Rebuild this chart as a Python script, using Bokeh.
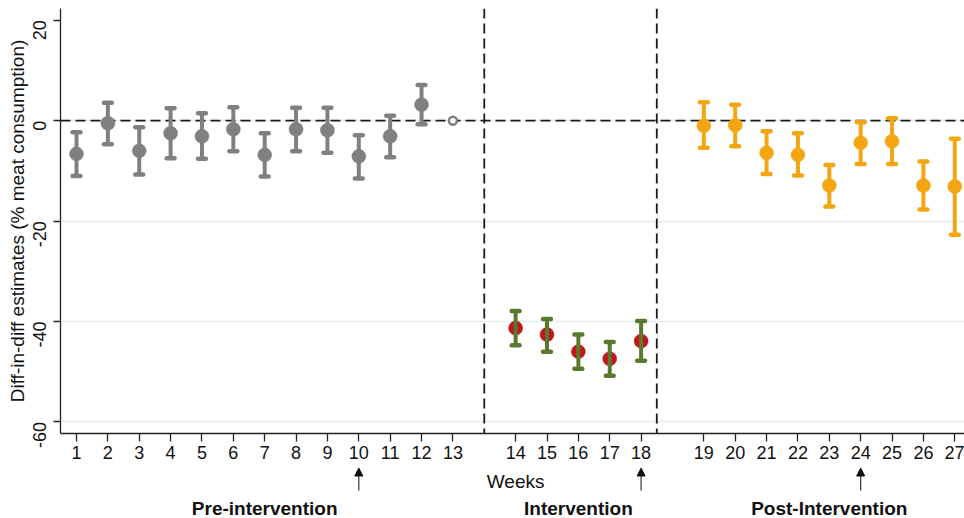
import math
from bokeh.plotting import figure
from bokeh.layouts import column
from bokeh.models import (Range1d, FixedTicker, Span, Arrow, NormalHead,
                          ColumnDataSource)
from bokeh.core.properties import value
from bokeh.embed import file_html
from bokeh.resources import INLINE

# ---------------- data ----------------
PRE_WEEKS = [1, 2, 3, 4, 5, 6, 7, 8, 9, 10, 11, 12]
PRE_EST = [-6.6, -0.5, -6.0, -2.5, -3.1, -1.7, -6.8, -1.7, -1.9, -7.1, -3.1, 3.2]
PRE_HI = [-2.3, 3.6, -1.3, 2.5, 1.5, 2.7, -2.5, 2.6, 2.6, -2.9, 1.0, 7.1]
PRE_LO = [-11.0, -4.7, -10.7, -7.5, -7.6, -6.1, -11.1, -6.1, -6.4, -11.5, -7.3, -0.7]

REF_WEEKS = [13]
REF_EST = [0.0]

INT_WEEKS = [14, 15, 16, 17, 18]
INT_EST = [-41.3, -42.6, -46.0, -47.4, -43.9]
INT_HI = [-37.9, -39.5, -42.6, -44.1, -39.9]
INT_LO = [-44.7, -46.0, -49.4, -50.8, -47.8]

POST_WEEKS = [19, 20, 21, 22, 23, 24, 25, 26, 27]
POST_EST = [-1.0, -0.9, -6.4, -6.8, -12.9, -4.4, -4.1, -12.9, -13.1]
POST_HI = [3.7, 3.2, -2.1, -2.5, -8.8, -0.3, 0.5, -8.1, -3.6]
POST_LO = [-5.4, -5.1, -10.6, -10.9, -17.1, -8.6, -8.6, -17.7, -22.7]

Y_TICKS = [20, 0, -20, -40, -60]
GRID_TICKS = [0, -20, -40, -60]
ARROW_WEEKS = [10, 18, 24]
SECTION_LABELS = ["Pre-intervention", "Intervention", "Post-Intervention"]
SECTION_CENTER_WEEKS = [7, 16, 23]
X_TITLE = "Weeks"
X_TITLE_WEEK = 14
Y_TITLE = "Diff-in-diff estimates (% meat consumption)"

# ---------------- layout ----------------
def pos(w):
    # one empty slot between the periods
    return w + (0 if w <= 13 else (1 if w <= 18 else 2))

SEPARATOR_POS = [14.0, 19.5]
X_START, X_END = 0.49, 29.31
Y_MIN, Y_MAX = -62.3, 22.35
W = 964
H1, H2 = 467, 51
B_LEFT, B_TOP = 60, 8
B_BOTTOM = H1 - 433
CAP = 0.125
FONT = "Liberation Sans"

GRAY = "#808080"
RED = "#c0161c"
GREEN = "#587a2c"
ORANGE = "#f4a612"
AXIS = "#222222"
TEXT = "#111111"

x_range = Range1d(X_START, X_END)

p = figure(width=W, height=H1, output_backend="svg", toolbar_location=None,
           x_range=x_range, y_range=Range1d(Y_MIN, Y_MAX),
           min_border_left=B_LEFT, min_border_right=0, min_border_top=B_TOP,
           min_border_bottom=B_BOTTOM)
p.outline_line_color = None
p.background_fill_color = "white"
p.border_fill_color = "white"

# axes
all_weeks = PRE_WEEKS + REF_WEEKS + INT_WEEKS + POST_WEEKS
p.xaxis.ticker = FixedTicker(ticks=[pos(w) for w in all_weeks])
p.xaxis.major_label_overrides = {pos(w): str(w) for w in all_weeks}
p.yaxis.ticker = FixedTicker(ticks=Y_TICKS)
p.yaxis.major_label_overrides = {t: str(t) for t in Y_TICKS}
for ax in (p.xaxis, p.yaxis):
    ax.axis_line_color = AXIS
    ax.axis_line_width = 1.3
    ax.major_tick_line_color = AXIS
    ax.major_tick_line_width = 1.3
    ax.major_tick_in = 0
    ax.minor_tick_line_color = None
    ax.major_label_text_font = FONT
    ax.major_label_text_font_size = "18px"
    ax.major_label_text_color = TEXT
p.xaxis.major_tick_out = 8
p.yaxis.major_tick_out = 7
p.xaxis.major_label_standoff = 4
p.yaxis.major_label_standoff = 14
p.yaxis.major_label_orientation = math.pi / 2
p.yaxis.axis_label = Y_TITLE
p.yaxis.axis_label_text_font = FONT
p.yaxis.axis_label_text_font_size = "19px"
p.yaxis.axis_label_text_font_style = "normal"
p.yaxis.axis_label_text_color = TEXT
p.yaxis.axis_label_standoff = -4

p.xgrid.grid_line_color = None
p.ygrid.ticker = FixedTicker(ticks=GRID_TICKS)
p.ygrid.grid_line_color = "#e4edf0"
p.ygrid.grid_line_width = 1.5

# reference lines
p.add_layout(Span(location=0, dimension="width", line_color="#1a1a1a",
                  line_width=1.8, line_dash="10 5", level="underlay"))
for s in SEPARATOR_POS:
    p.add_layout(Span(location=s, dimension="height", line_color="#1a1a1a",
                      line_width=1.8, line_dash="10 5", level="underlay"))

def group(weeks, est, lo, hi, dot_color, bar_color):
    x = [pos(w) for w in weeks]
    src = ColumnDataSource(dict(x=x, xl=[v - CAP for v in x], xr=[v + CAP for v in x],
                                est=est, lo=lo, hi=hi))
    p.scatter(x="x", y="est", source=src, size=14, fill_color=dot_color,
              line_color=dot_color, line_width=0.5)
    p.segment(x0="x", y0="lo", x1="x", y1="hi", source=src,
              line_color=bar_color, line_width=4)
    p.segment(x0="xl", y0="hi", x1="xr", y1="hi", source=src,
              line_color=bar_color, line_width=4.5, line_cap="round")
    p.segment(x0="xl", y0="lo", x1="xr", y1="lo", source=src,
              line_color=bar_color, line_width=4.5, line_cap="round")

group(PRE_WEEKS, PRE_EST, PRE_LO, PRE_HI, GRAY, GRAY)
group(INT_WEEKS, INT_EST, INT_LO, INT_HI, RED, GREEN)
group(POST_WEEKS, POST_EST, POST_LO, POST_HI, ORANGE, ORANGE)

p.scatter(x=[pos(w) for w in REF_WEEKS], y=REF_EST, size=8, fill_color="white",
          line_color=GRAY, line_width=2.5)

# ---------------- strip below the axis: title, arrows, period names ----------------
# y in pixels from the top of this strip
q = figure(width=W, height=H2, output_backend="svg", toolbar_location=None,
           x_range=x_range, y_range=Range1d(H2, 0),
           min_border_left=B_LEFT, min_border_right=0, min_border_top=0,
           min_border_bottom=0, x_axis_location=None, y_axis_location=None)
q.outline_line_color = None
q.xgrid.grid_line_color = None
q.ygrid.grid_line_color = None
q.background_fill_color = "white"
q.border_fill_color = "white"

q.text(x=[pos(X_TITLE_WEEK)], y=[14], text=[X_TITLE], text_align="center",
       text_baseline="alphabetic", text_font=value(FONT), text_font_size="19px",
       text_color=TEXT)
q.text(x=[pos(w) for w in SECTION_CENTER_WEEKS], y=[40.5] * len(SECTION_LABELS),
       text=SECTION_LABELS, text_align="center", text_baseline="alphabetic",
       text_font=value(FONT), text_font_size="19px", text_font_style="bold",
       text_color=TEXT)
for w in ARROW_WEEKS:
    q.add_layout(Arrow(x_start=pos(w), y_start=23, x_end=pos(w), y_end=0.5,
                       line_color="#333333", line_width=1.2,
                       end=NormalHead(size=8, fill_color="#111111",
                                      line_color="#111111", line_width=1)))

layout = column(p, q, spacing=0)
open("out.html", "w").write(file_html(layout, INLINE))
